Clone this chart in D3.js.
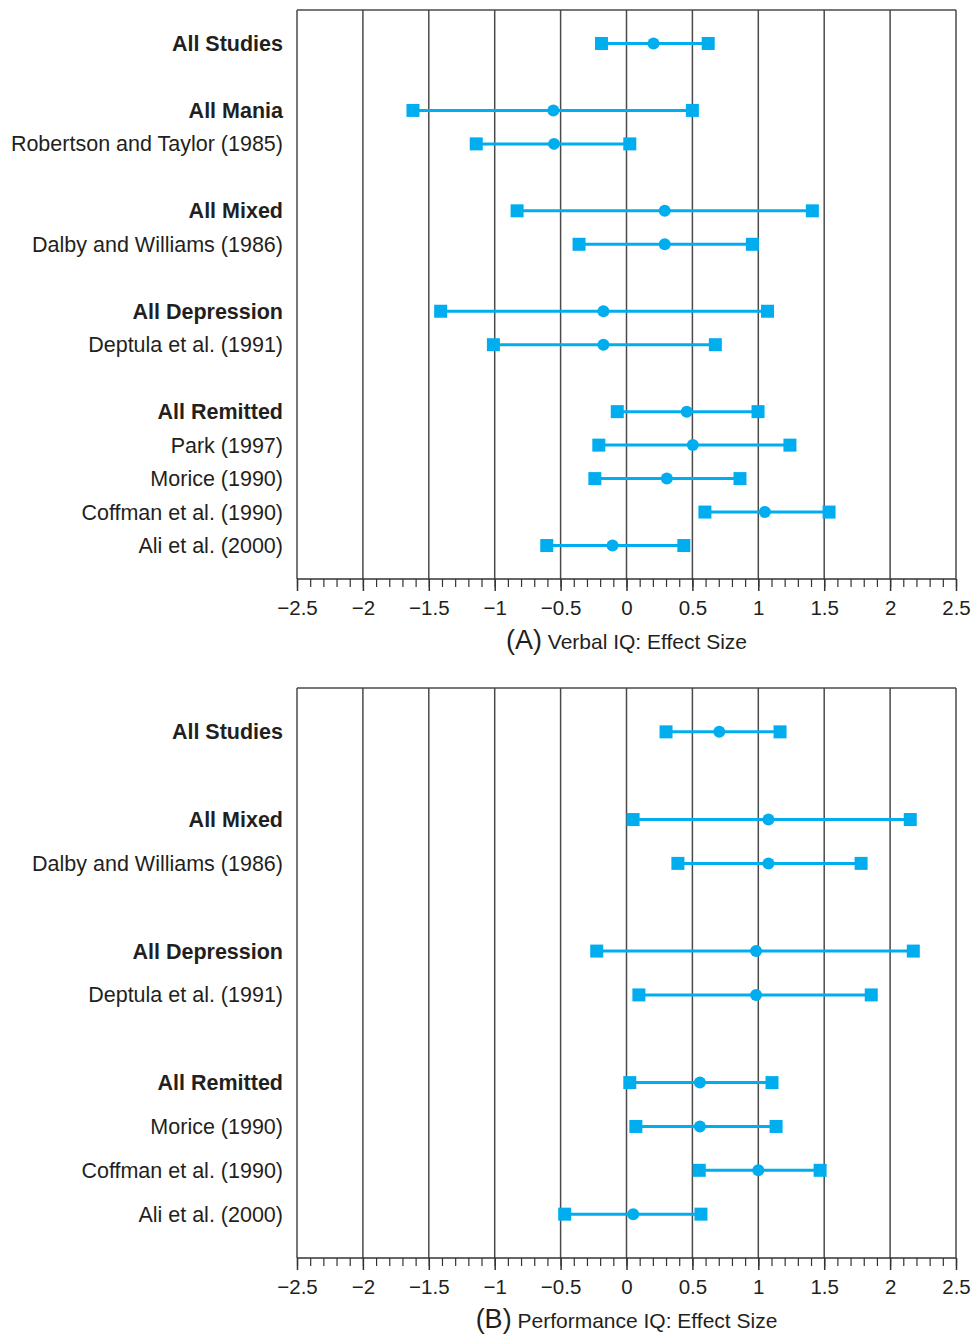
<!DOCTYPE html>
<html>
<head>
<meta charset="utf-8">
<script src="https://cdn.jsdelivr.net/npm/d3@7"></script>
<style>
  html, body { margin: 0; padding: 0; background: #fff; }
  svg { display: block; font-family: "Liberation Sans", Arial, Helvetica, sans-serif; }
</style>
</head>
<body>
<div id="chart"></div>
<script>
// ---------- Data ----------
// null = spacer row between groups
const verbalRows = ["All Studies", null, "All Mania", "Robertson and Taylor (1985)", null,
  "All Mixed", "Dalby and Williams (1986)", null, "All Depression", "Deptula et al. (1991)", null,
  "All Remitted", "Park (1997)", "Morice (1990)", "Coffman et al. (1990)", "Ali et al. (2000)"];
const verbalLower = [-0.19, null, -1.62, -1.14, null, -0.83, -0.36, null, -1.41, -1.01, null, -0.07, -0.21, -0.24, 0.595, -0.605];
const verbalMean  = [0.205, null, -0.555, -0.55, null, 0.29, 0.29, null, -0.175, -0.175, null, 0.457, 0.503, 0.306, 1.05, -0.106];
const verbalUpper = [0.62, null, 0.50, 0.025, null, 1.41, 0.955, null, 1.07, 0.674, null, 0.998, 1.24, 0.861, 1.537, 0.435];

const perfRows = ["All Studies", null, "All Mixed", "Dalby and Williams (1986)", null,
  "All Depression", "Deptula et al. (1991)", null,
  "All Remitted", "Morice (1990)", "Coffman et al. (1990)", "Ali et al. (2000)"];
const perfLower = [0.30, null, 0.05, 0.39, null, -0.226, 0.094, null, 0.025, 0.071, 0.552, -0.469];
const perfMean  = [0.704, null, 1.077, 1.077, null, 0.983, 0.983, null, 0.557, 0.557, 1.0, 0.051];
const perfUpper = [1.165, null, 2.153, 1.78, null, 2.176, 1.857, null, 1.104, 1.135, 1.469, 0.565];

const xDomain = [-2.5, 2.5];
const majorTicks = [-2.5, -2, -1.5, -1, -0.5, 0, 0.5, 1, 1.5, 2, 2.5];
const minorTicks = d3.range(-25, 26).map(d => d / 10);

// ---------- Drawing ----------
const W = 971, H = 1334;
const svg = d3.select("#chart").append("svg").attr("width", W).attr("height", H);

const COLOR = "#00aeef";
const INK = "#231f20";
const GRID = "#4a4a4a";

function panel(cfg) {
  const { rows, lower, mean, upper, top, bottom, letter, title } = cfg;
  const left = 297, right = 956;
  const x = d3.scaleLinear().domain(xDomain).range([left, right]);
  const y = d3.scalePoint().domain(d3.range(rows.length)).range([top, bottom]).padding(1);
  const g = svg.append("g");

  // gridlines
  g.selectAll("line.grid").data(majorTicks).join("line")
    .attr("x1", d => x(d)).attr("x2", d => x(d))
    .attr("y1", top).attr("y2", bottom)
    .attr("stroke", GRID).attr("stroke-width", 1.5);
  // top border
  g.append("line").attr("x1", left).attr("x2", right).attr("y1", top).attr("y2", top)
    .attr("stroke", GRID).attr("stroke-width", 1.5);

  // minor ticks
  const minorAxis = d3.axisBottom(x).tickValues(minorTicks).tickSize(8).tickFormat("");
  const gm = g.append("g").attr("transform", `translate(0,${bottom})`).call(minorAxis);
  gm.select(".domain").remove();
  gm.selectAll("line").attr("stroke", "#333").attr("stroke-width", 1.2);

  // major axis
  const majorAxis = d3.axisBottom(x).tickValues(majorTicks).tickSize(12).tickPadding(9)
    .tickFormat(d3.format("~g"));
  const ga = g.append("g").attr("transform", `translate(0,${bottom})`).call(majorAxis);
  ga.select(".domain").attr("stroke", "#333").attr("stroke-width", 1.5).attr("d", `M${left},0H${right}`);
  ga.selectAll(".tick line").attr("stroke", "#333").attr("stroke-width", 1.5);
  ga.selectAll(".tick text").attr("fill", INK).attr("font-size", 20.5)
    .attr("font-family", "Liberation Sans, Arial, sans-serif");

  // axis title
  const t = g.append("text").attr("x", (left + right) / 2).attr("y", bottom + 70)
    .attr("text-anchor", "middle").attr("fill", INK);
  t.append("tspan").attr("font-size", 27).text(`(${letter})`);
  t.append("tspan").attr("font-size", 21).text(" " + title);

  // row labels
  const idx = d3.range(rows.length).filter(i => rows[i] !== null);
  g.selectAll("text.lab").data(idx).join("text")
    .attr("x", 283).attr("y", i => y(i)).attr("dy", "0.35em")
    .attr("text-anchor", "end").attr("font-size", 21.5).attr("fill", INK)
    .attr("font-weight", i => rows[i].startsWith("All ") ? "bold" : "normal")
    .text(i => rows[i]);

  // intervals
  g.selectAll("line.ci").data(idx).join("line")
    .attr("x1", i => x(lower[i])).attr("x2", i => x(upper[i]))
    .attr("y1", i => y(i)).attr("y2", i => y(i))
    .attr("stroke", COLOR).attr("stroke-width", 3);
  const s = 13;
  g.selectAll("rect.lo").data(idx).join("rect")
    .attr("x", i => x(lower[i]) - s / 2).attr("y", i => y(i) - s / 2)
    .attr("width", s).attr("height", s).attr("fill", COLOR);
  g.selectAll("rect.hi").data(idx).join("rect")
    .attr("x", i => x(upper[i]) - s / 2).attr("y", i => y(i) - s / 2)
    .attr("width", s).attr("height", s).attr("fill", COLOR);
  g.selectAll("circle.m").data(idx).join("circle")
    .attr("cx", i => x(mean[i])).attr("cy", i => y(i)).attr("r", 6).attr("fill", COLOR);
}

panel({ rows: verbalRows, lower: verbalLower, mean: verbalMean, upper: verbalUpper,
  top: 10, bottom: 579, letter: "A", title: "Verbal IQ: Effect Size" });
panel({ rows: perfRows, lower: perfLower, mean: perfMean, upper: perfUpper,
  top: 688, bottom: 1258, letter: "B", title: "Performance IQ: Effect Size" });
</script>
</body>
</html>
